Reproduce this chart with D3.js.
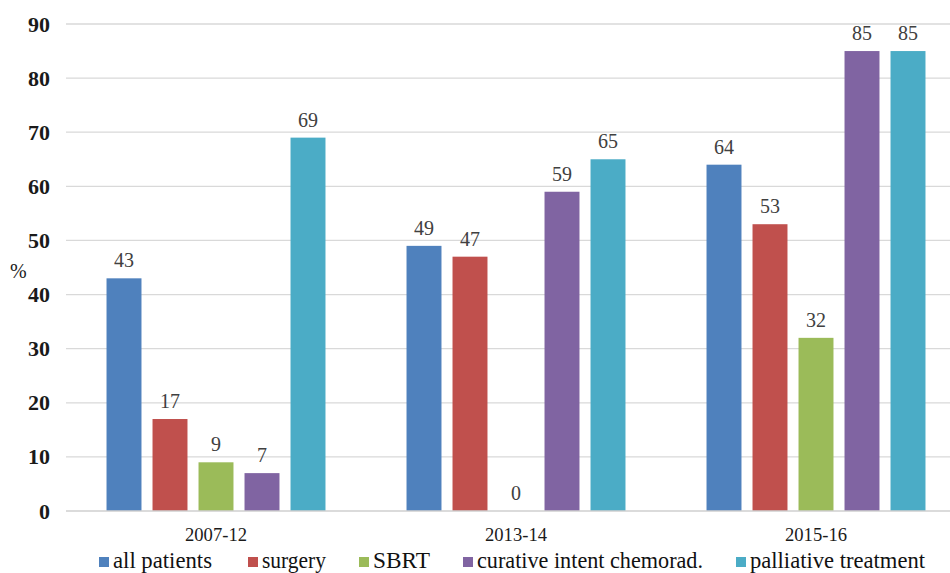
<!DOCTYPE html>
<html><head><meta charset="utf-8">
<script src="https://cdn.jsdelivr.net/npm/d3@7"></script>
</head><body style="margin:0;background:#fff">
<svg id="c" width="950" height="573" style="display:block"></svg>
<script>
const categories = ["2007-12", "2013-14", "2015-16"];
const seriesNames = ["all patients", "surgery", "SBRT", "curative intent chemorad.", "palliative treatment"];
const allPatients = [43, 49, 64];
const surgery = [17, 47, 53];
const sbrt = [9, 0, 32];
const chemorad = [7, 59, 85];
const palliative = [69, 65, 85];
const yTicks = [0, 10, 20, 30, 40, 50, 60, 70, 80, 90];
const colors = ["#4F81BD", "#C0504D", "#9BBB59", "#8064A2", "#4BACC6"];

const FONT = "'Liberation Serif', 'Times New Roman', serif";
const seriesValues = [allPatients, surgery, sbrt, chemorad, palliative];
const svg = d3.select("#c");

const x0 = d3.scaleBand().domain(categories).range([66, 966]).padding(0);
const x1 = d3.scaleBand().domain(seriesNames).range([35, 265]).paddingInner(0.24).paddingOuter(0.12);
const y = d3.scaleLinear().domain([0, 90]).range([511, 24]);

// gridlines
svg.append("g").selectAll("line").data(yTicks.filter(t => t > 0)).join("line")
  .attr("x1", 66).attr("x2", 950)
  .attr("y1", d => y(d)).attr("y2", d => y(d))
  .attr("stroke", "#d9d9d9").attr("stroke-width", 1.3);

// y axis labels
const yAxis = d3.axisLeft(y).tickValues(yTicks).tickSize(0).tickPadding(16);
const ya = svg.append("g").attr("transform", "translate(66,0)").call(yAxis);
ya.select(".domain").remove();
ya.selectAll("text").attr("font-size", 22)
  .attr("font-weight", "bold").attr("fill", "#1a1a1a");

// bars
const groups = svg.append("g").selectAll("g").data(categories).join("g")
  .attr("transform", d => `translate(${x0(d)},0)`);
groups.each(function(cat, ci) {
  const g = d3.select(this);
  const rows = seriesNames.map((s, si) => ({s, si, v: seriesValues[si][ci]}));
  g.selectAll("rect").data(rows).join("rect")
    .attr("x", d => x1(d.s)).attr("width", x1.bandwidth())
    .attr("y", d => y(d.v)).attr("height", d => y(0) - y(d.v))
    .attr("fill", d => colors[d.si]);
  g.selectAll("text").data(rows).join("text")
    .attr("x", d => x1(d.s) + x1.bandwidth() / 2)
    .attr("y", d => y(d.v) - 11)
    .attr("text-anchor", "middle")
    .attr("font-size", 20).attr("fill", "#404040")
    .text(d => d.v);
});

// baseline
svg.append("line").attr("x1", 66).attr("x2", 950).attr("y1", y(0)).attr("y2", y(0))
  .attr("stroke", "#cfcfcf").attr("stroke-width", 1.5);

// x axis labels
const xAxis = d3.axisBottom(x0).tickSize(0).tickPadding(17);
const xa = svg.append("g").attr("transform", `translate(0,${y(0)})`).call(xAxis);
xa.select(".domain").remove();
xa.selectAll("text").attr("font-size", 18)
  .attr("fill", "#1a1a1a")
  .attr("textLength", 62).attr("lengthAdjust", "spacingAndGlyphs");

// % label
svg.append("text").attr("x", 10).attr("y", 278).attr("font-size", 20)
  .attr("fill", "#1a1a1a").text("%");

// legend
const legendX = [113, 262, 373, 477, 750];
const legendW = [99, 64, 57, 226, 175];
const lg = svg.append("g").selectAll("g").data(seriesNames).join("g")
  .attr("transform", (d, i) => `translate(${legendX[i]},0)`);
lg.append("rect").attr("x", -14).attr("y", 557).attr("width", 10).attr("height", 10)
  .attr("fill", (d, i) => colors[i]);
lg.append("text").attr("x", 0).attr("y", 568).attr("font-size", 23)
  .attr("fill", "#111")
  .attr("textLength", (d, i) => legendW[i]).attr("lengthAdjust", "spacingAndGlyphs")
  .text(d => d);

// apply serif font to all text, inline and important
svg.selectAll("text").attr("font-family", FONT).style("font-family", FONT, "important");
</script>
</body></html>
